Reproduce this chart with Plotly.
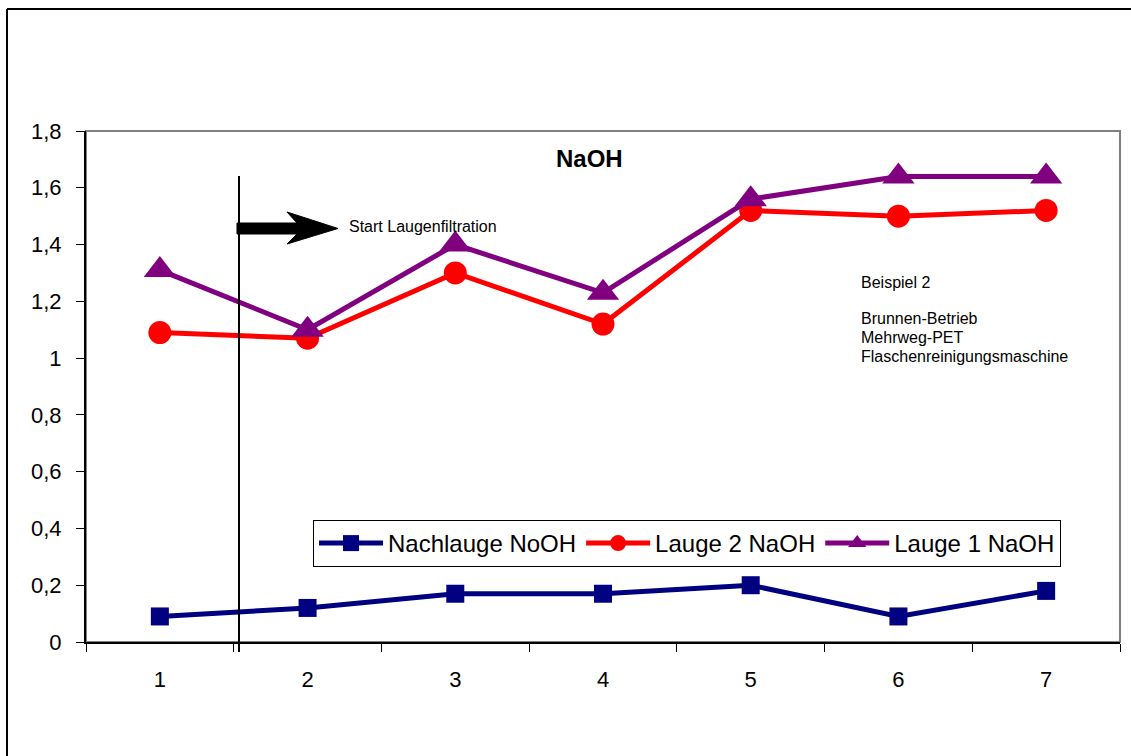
import plotly.graph_objects as go

# ---- data ----
categories = [1, 2, 3, 4, 5, 6, 7]
nachlauge = [0.09, 0.12, 0.17, 0.17, 0.20, 0.09, 0.18]
lauge2 = [1.09, 1.07, 1.30, 1.12, 1.52, 1.50, 1.52]
lauge1 = [1.31, 1.10, 1.40, 1.23, 1.56, 1.64, 1.64]
y_ticks = [0, 0.2, 0.4, 0.6, 0.8, 1.0, 1.2, 1.4, 1.6, 1.8]
y_ticktext = ["0", "0,2", "0,4", "0,6", "0,8", "1", "1,2", "1,4", "1,6", "1,8"]
note_lines = ["Beispiel 2", "Brunnen-Betrieb", "Mehrweg-PET", "Flaschenreinigungsmaschine"]

W, H = 1131, 756
L, R, T, B = 86, 11, 131, 114
PW, PH = W - L - R, H - T - B

def px(x):
    return (x - L) / PW

def py(y):
    return (H - B - y) / PH

FONT = "Arial, 'Liberation Sans', sans-serif"

fig = go.Figure()
fig.add_trace(go.Scatter(x=categories, y=nachlauge, name="Nachlauge NoOH", mode="lines+markers",
                         line=dict(color="#000080", width=5),
                         marker=dict(symbol="square", size=18, color="#000080")))
fig.add_trace(go.Scatter(x=categories, y=lauge2, name="Lauge 2 NaOH", mode="lines+markers",
                         line=dict(color="#FF0000", width=5),
                         marker=dict(symbol="circle", size=23, color="#FF0000")))
fig.add_trace(go.Scatter(x=categories, y=lauge1, name="Lauge 1 NaOH", mode="lines+markers",
                         line=dict(color="#800080", width=5),
                         marker=dict(symbol="triangle-up", size=28, color="#800080")))

shapes = []
# plot area border (gray top/right)
shapes.append(dict(type="rect", xref="paper", yref="paper", x0=0, x1=1, y0=0, y1=1,
                   line=dict(color="#808080", width=2), layer="below"))
# outer frame: left and top lines
shapes.append(dict(type="line", xref="paper", yref="paper", x0=px(7), x1=px(7), y0=py(9), y1=py(H + 5),
                   line=dict(color="black", width=2)))
shapes.append(dict(type="line", xref="paper", yref="paper", x0=px(7), x1=px(W + 5), y0=py(9), y1=py(9),
                   line=dict(color="black", width=2)))
# vertical marker line
shapes.append(dict(type="line", xref="paper", yref="paper", x0=px(239), x1=px(239), y0=py(176), y1=py(652),
                   line=dict(color="black", width=2)))
# arrow
pts = [(237, 223), (297, 223), (287, 212), (338, 228.5), (287, 244), (297, 234), (237, 234)]
path = "M " + " L ".join(f"{px(a):.5f},{py(b):.5f}" for a, b in pts) + " Z"
shapes.append(dict(type="path", xref="paper", yref="paper", path=path,
                   fillcolor="black", line=dict(color="black", width=1)))

annotations = [
    dict(text="<b>NaOH</b>", xref="paper", yref="paper", x=px(589), y=py(158), showarrow=False,
         xanchor="center", yanchor="middle", font=dict(family=FONT, size=24, color="black")),
    dict(text="Start Laugenfiltration", xref="paper", yref="paper", x=px(347), y=py(226), showarrow=False,
         xanchor="left", yanchor="middle", font=dict(family=FONT, size=16, color="black")),
]
note_y = [282, 318, 337, 356]
for txt, yy in zip(note_lines, note_y):
    annotations.append(dict(text=txt, xref="paper", yref="paper", x=px(859), y=py(yy), showarrow=False,
                            xanchor="left", yanchor="middle", font=dict(family=FONT, size=16, color="black")))

fig.update_layout(
    width=W, height=H,
    margin=dict(l=L, r=R, t=T, b=B, pad=0),
    paper_bgcolor="white", plot_bgcolor="white",
    showlegend=True,
    legend=dict(orientation="h", x=px(313), y=py(520), xanchor="left", yanchor="top",
                bordercolor="black", borderwidth=1, bgcolor="white",
                font=dict(family=FONT, size=24, color="black"), itemwidth=64,
                tracegroupgap=0),
    shapes=shapes, annotations=annotations,
    font=dict(family=FONT, color="black"),
    xaxis=dict(range=[0.5, 7.5], tickvals=categories, ticktext=[str(c) for c in categories],
               ticks="", showgrid=False, zeroline=False, showline=True, linecolor="black", linewidth=2,
               tickfont=dict(family=FONT, size=22, color="black"), ticklabelstandoff=17,
               minor=dict(tickvals=[c - 0.5 for c in categories] + [categories[-1] + 0.5],
                          ticks="outside", ticklen=8, tickcolor="black", tickwidth=1, showgrid=False)),
    yaxis=dict(range=[0, 1.8], tickvals=y_ticks, ticktext=y_ticktext, ticks="outside", ticklen=8,
               tickcolor="black", tickwidth=1, showgrid=False, zeroline=False, showline=True,
               linecolor="black", linewidth=2, tickfont=dict(family=FONT, size=22, color="black"),
               ticklabelstandoff=10),
)

fig.write_html("out.html")
